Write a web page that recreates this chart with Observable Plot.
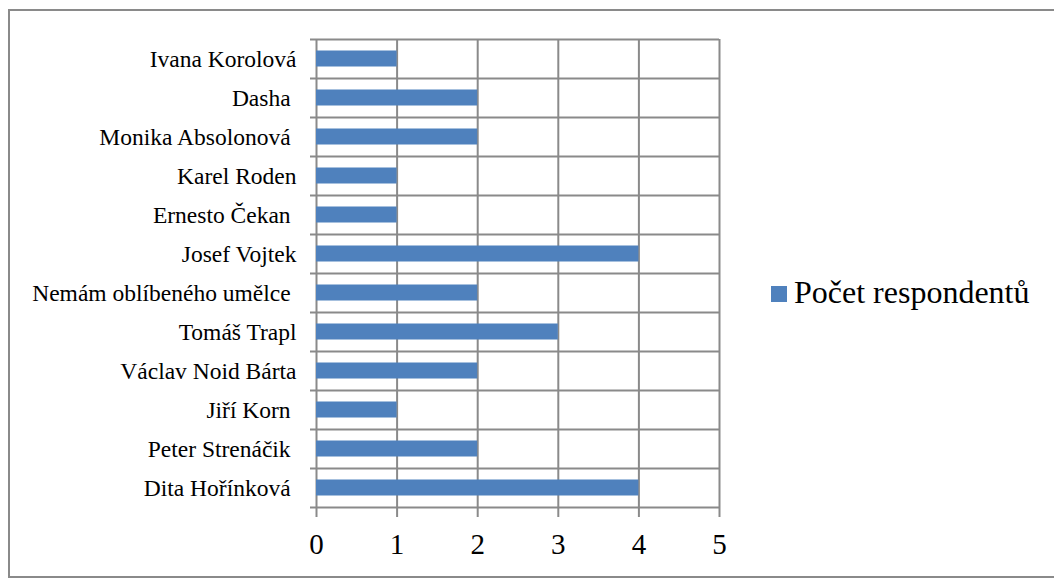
<!DOCTYPE html>
<html>
<head>
<meta charset="utf-8">
<script src="https://cdn.jsdelivr.net/npm/d3@7"></script>
<script src="https://cdn.jsdelivr.net/npm/@observablehq/plot@0.6"></script>
<style>
  html, body { margin: 0; padding: 0; background: #fff; }
  #wrap { position: relative; width: 1054px; height: 579px; overflow: hidden; font-family: "Liberation Serif", serif; }
  #border { position: absolute; left: 8px; top: 9px; width: 1100px; height: 569px; box-sizing: border-box; border: 2px solid #8a8a8a; pointer-events: none; }
  #chart { position: absolute; left: 0; top: 0; }
  #chart svg { display: block; font-family: "Liberation Serif", serif !important; }
  #chart svg text { font-family: "Liberation Serif", serif !important; }
  #legend-swatch { position: absolute; left: 771px; top: 286px; width: 16px; height: 16px; background: #4F81BD; }
  #legend-text { position: absolute; left: 794px; top: 278px; font-family: "Liberation Serif", serif; font-size: 32px; line-height: 28px; color: #000; white-space: nowrap; }
</style>
</head>
<body>
<div id="wrap">
  <div id="border"></div>
  <div id="chart"></div>
  <div id="legend-swatch"></div>
  <div id="legend-text"></div>
</div>
<script>
const categories = ["Ivana Korolová", "Dasha ", "Monika Absolonová ", "Karel Roden", "Ernesto Čekan ", "Josef Vojtek", "Nemám oblíbeného umělce ", "Tomáš Trapl", "Václav Noid Bárta", "Jiří Korn ", "Peter Strenáčik ", "Dita Hořínková "];
const values = [1, 2, 2, 1, 1, 4, 2, 3, 2, 1, 2, 4];
const xTicks = [0, 1, 2, 3, 4, 5];
const seriesName = "Počet respondentů";

const data = categories.map((c, i) => ({name: c, value: values[i]}));

const W = 1054, H = 579;
const mL = 316, mR = 335, mT = 39, mB = 72;
const step = (H - mT - mB) / categories.length;
const gridColor = "#8a8a8a";
const barColor = "#4F81BD";

const chart = Plot.plot({
  width: W,
  height: H,
  marginLeft: mL,
  marginRight: mR,
  marginTop: mT,
  marginBottom: mB,
  style: {color: "#000", background: "transparent"},
  x: {domain: [0, 5]},
  y: {domain: categories, padding: 0},
  marks: [
    Plot.ruleX(xTicks, {stroke: gridColor, strokeWidth: 2}),
    Plot.tickY(categories, {y: d => d, dy: -step / 2, insetLeft: -6, stroke: gridColor, strokeWidth: 2}),
    Plot.tickY(categories.slice(-1), {y: d => d, dy: step / 2, insetLeft: -6, stroke: gridColor, strokeWidth: 2}),
    Plot.barX(data, {y: "name", x: "value", fill: barColor, insetTop: 11.5, insetBottom: 11.5}),
    Plot.axisX({ticks: xTicks, tickFormat: d => String(d), tickSize: 10, tickPadding: 16, fontSize: 29, stroke: gridColor, strokeWidth: 2, strokeOpacity: 1, fill: "#000", label: null}),
    Plot.axisY({tickSize: 0, tickPadding: 20, fontSize: 23.5, fill: "#000", label: null, tickFormat: d => d.replace(/ $/, "\u00A0")})
  ]
});
chart.style.fontFamily = "'Liberation Serif', serif";
document.getElementById("chart").appendChild(chart);
document.getElementById("legend-text").textContent = seriesName;
</script>
</body>
</html>
